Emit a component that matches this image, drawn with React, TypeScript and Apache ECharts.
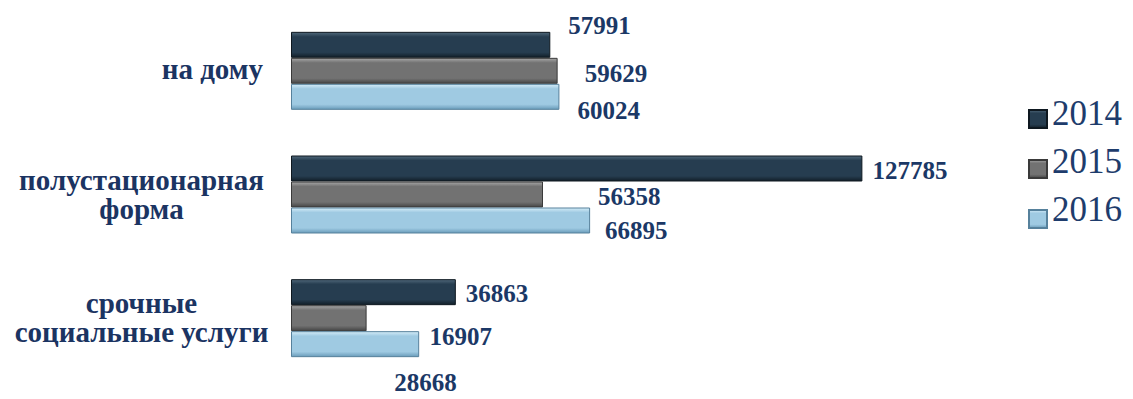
import React, { useEffect, useRef } from "react";
import * as echarts from "echarts";

const categories = ["на дому", "полустационарная\nформа", "срочные\nсоциальные услуги"];
const years = ["2014", "2015", "2016"];
const values2014 = [57991, 127785, 36863];
const values2015 = [59629, 56358, 16907];
const values2016 = [60024, 66895, 28668];

// label offsets (style only), per series per category: [dx, dy] from the bar end
const labelOffsets2014 = [[13, -19], [5, 2], [5, 1]];
const labelOffsets2015 = [[22, 3], [50, 2], [58, 18]];
const labelOffsets2016 = [[13, 14], [10, 10], [-30, 38]];

const VALUE_SIZE = 25;
const CAT_SIZE = 29;
const LEG_SIZE = 35;
const VALUE_FONT = `bold ${VALUE_SIZE}px "Liberation Serif"`;
const CAT_FONT = `bold ${CAT_SIZE}px "Liberation Serif"`;
const LEG_FONT = `normal ${LEG_SIZE}px "Liberation Serif"`;
const NAVY = "#1b3866";
const CAT_COLOR = "#1b3462";
const BAR_W = 26;

function grad(top: string, main: string, bottom: string) {
  return new echarts.graphic.LinearGradient(0, 0, 0, 1, [
    { offset: 0, color: top },
    { offset: 0.18, color: main },
    { offset: 0.8, color: main },
    { offset: 1, color: bottom },
  ]);
}

const styles = [
  { color: grad("#50687a", "#263d50", "#121f29"), border: "#0e1820" },
  { color: grad("#a6a6a6", "#727272", "#464646"), border: "#3a3a3a" },
  { color: grad("#d4ecf8", "#9fcae2", "#6a9cba"), border: "#56819c" },
];

function measure(font: string, text: string): number {
  const ctx = document.createElement("canvas").getContext("2d");
  if (!ctx) return text.length * 14;
  ctx.font = font;
  return ctx.measureText(text).width;
}

export default function App() {
  const ref = useRef<HTMLDivElement>(null);
  useEffect(() => {
    if (!ref.current) return;
    const chart = echarts.init(ref.current, undefined, { renderer: "svg" });
    const all = [values2014, values2015, values2016];
    const offs = [labelOffsets2014, labelOffsets2015, labelOffsets2016];

    chart.setOption({
      animation: false,
      backgroundColor: "#ffffff",
      grid: { left: 291, right: 216, top: 9, bottom: 19, containLabel: false },
      legend: {
        orient: "vertical",
        left: 1023,
        top: 104,
        itemWidth: 18,
        itemHeight: 18,
        itemGap: 30,
        icon: "rect",
        data: years,
        selectedMode: false,
        formatter: () => "",
        textStyle: { fontSize: 10, color: "transparent" },
      },
      xAxis: { type: "value", min: 0, max: 140000, show: false },
      yAxis: {
        type: "category",
        data: categories,
        inverse: true,
        axisLine: { show: false },
        axisTick: { show: false },
        splitLine: { show: false },
        axisLabel: { show: false },
      },
      series: years.map((y, si) => ({
        name: y,
        type: "bar",
        barWidth: BAR_W,
        barGap: "0%",
        itemStyle: {
          color: styles[si].color,
          borderColor: styles[si].border,
          borderWidth: 1,
        },
        data: all[si],
      })),
    });

    const texts: any[] = [];

    // value labels, placed through the chart's own scales
    all.forEach((vals, si) => {
      vals.forEach((v, ci) => {
        const p = chart.convertToPixel({ gridIndex: 0 }, [v, ci]) as number[];
        const o = offs[si][ci];
        const cy = p[1] + (si - 1) * BAR_W + o[1];
        texts.push({
          type: "text",
          z: 100,
          left: p[0] + 5 + o[0],
          top: cy - VALUE_SIZE / 2,
          style: { text: String(v), font: VALUE_FONT, fill: NAVY },
        });
      });
    });

    // category labels
    categories.forEach((c, ci) => {
      const p = chart.convertToPixel({ gridIndex: 0 }, [0, ci]) as number[];
      const lines = c.split("\n");
      if (lines.length === 1) {
        const w = measure(CAT_FONT, lines[0]);
        texts.push({
          type: "text",
          z: 100,
          left: p[0] - 28 - w,
          top: p[1] - 2 - CAT_SIZE / 2,
          style: { text: lines[0], font: CAT_FONT, fill: CAT_COLOR },
        });
      } else {
        const cx = p[0] - 149.5;
        lines.forEach((l, li) => {
          const w = measure(CAT_FONT, l);
          const cy = p[1] + (li === 0 ? -15 : 14);
          texts.push({
            type: "text",
            z: 100,
            left: cx - w / 2,
            top: cy - CAT_SIZE / 2,
            style: { text: l, font: CAT_FONT, fill: CAT_COLOR },
          });
        });
      }
    });

    // legend texts
    years.forEach((y, i) => {
      texts.push({
        type: "text",
        z: 100,
        left: 1052,
        top: 113 + i * 48 - LEG_SIZE / 2,
        style: { text: y, font: LEG_FONT, fill: "#1e3c6c" },
      });
    });

    chart.setOption({ graphic: texts });
    return () => chart.dispose();
  }, []);
  return (
    <div
      ref={ref}
      style={{ position: "fixed", left: 0, top: 0, width: 1133, height: 399 }}
    />
  );
}
